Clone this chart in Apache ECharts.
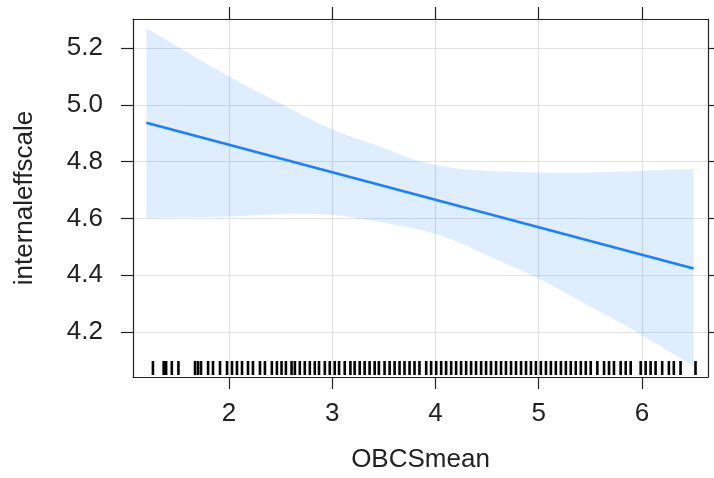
<!DOCTYPE html>
<html>
<head>
<meta charset="utf-8">
<script src="https://cdn.jsdelivr.net/npm/echarts@6/dist/echarts.min.js"></script>
<style>
  html, body { margin: 0; padding: 0; background: #fff; }
  #chart { width: 714px; height: 478px; }
</style>
</head>
<body>
<div id="chart"></div>
<script>
// effect of OBCSmean on internaleffscale, fit + confidence band
const bandX = [1.2, 1.5, 2, 2.5, 3, 3.5, 3.75, 4, 4.25, 4.5, 5, 5.5, 6, 6.5]
const bandUpper = [5.27, 5.205, 5.10, 5.005, 4.914, 4.848, 4.812, 4.789, 4.774, 4.768, 4.762, 4.762, 4.768, 4.774]
const bandLower = [4.601, 4.604, 4.607, 4.615, 4.613, 4.585, 4.568, 4.546, 4.512, 4.47, 4.389, 4.29, 4.19, 4.08]
const fitX = [1.2, 6.5]
const fitY = [4.937, 4.424]

// rug of observed OBCSmean values
const rugX = [
  1.263, 1.367, 1.391, 1.446, 1.510, 1.671, 1.700, 1.729, 1.797, 1.845,
  1.913, 1.981, 2.029, 2.077, 2.126, 2.184, 2.232, 2.300, 2.348, 2.415,
  2.464, 2.509, 2.551, 2.606, 2.638, 2.686, 2.734, 2.783, 2.831, 2.872,
  2.928, 2.976, 3.024, 3.066, 3.121, 3.176, 3.217, 3.266, 3.314, 3.362,
  3.411, 3.452, 3.507, 3.556, 3.604, 3.652, 3.700, 3.749, 3.797, 3.845,
  3.910, 3.958, 4.007, 4.055, 4.103, 4.152, 4.200, 4.248, 4.297, 4.345,
  4.393, 4.442, 4.490, 4.538, 4.587, 4.635, 4.683, 4.732, 4.780, 4.829,
  4.877, 4.925, 4.973, 5.021, 5.070, 5.118, 5.166, 5.215, 5.263, 5.311,
  5.359, 5.408, 5.456, 5.504, 5.568, 5.633, 5.681, 5.729, 5.794, 5.843,
  5.891, 5.988, 6.036, 6.084, 6.132, 6.196, 6.261, 6.309, 6.374, 6.519
]

const xTicks = [2, 3, 4, 5, 6]
const yTicks = [4.2, 4.4, 4.6, 4.8, 5.0, 5.2]
const xMin = 1.07, xMax = 6.64
const yMin = 4.042, yMax = 5.302

const chart = echarts.init(document.getElementById('chart'))

const axisLine = { show: true, lineStyle: { color: '#222', width: 1.2 } }
const tickStyle = { lineStyle: { color: '#222', width: 1.2 } }
const gridLine = { show: true, lineStyle: { color: '#e2e2e2', width: 1.2 } }
const labelFont = { color: '#222', fontSize: 26, fontFamily: 'Liberation Sans, Arial, sans-serif' }

// catmull-rom through pixel points -> bezier path commands
function smoothSegs(pts) {
  let d = ''
  for (let i = 0; i < pts.length - 1; i++) {
    const p0 = pts[Math.max(i - 1, 0)], p1 = pts[i], p2 = pts[i + 1], p3 = pts[Math.min(i + 2, pts.length - 1)]
    const c1 = [p1[0] + (p2[0] - p0[0]) / 6, p1[1] + (p2[1] - p0[1]) / 6]
    const c2 = [p2[0] - (p3[0] - p1[0]) / 6, p2[1] - (p3[1] - p1[1]) / 6]
    d += ` C ${c1[0]} ${c1[1]} ${c2[0]} ${c2[1]} ${p2[0]} ${p2[1]}`
  }
  return d
}

const xAxisBase = {
  type: 'value', min: xMin, max: xMax,
  axisLine: axisLine,
  splitLine: gridLine
}
const yAxisBase = {
  type: 'value', min: yMin, max: yMax,
  axisLine: axisLine,
  splitLine: gridLine
}

const option = {
  animation: false,
  backgroundColor: '#fff',
  grid: { left: 133, right: 6, top: 19, bottom: 99 },
  xAxis: [
    {
      ...xAxisBase,
      position: 'bottom',
      name: 'OBCSmean',
      nameLocation: 'middle',
      nameGap: 70,
      nameTextStyle: { ...labelFont },
      axisTick: { show: true, length: 12, customValues: xTicks, ...tickStyle },
      axisLabel: { ...labelFont, margin: 24, customValues: xTicks, formatter: v => String(v) }
    },
    {
      ...xAxisBase,
      position: 'top',
      splitLine: { show: false },
      axisTick: { show: true, length: 12, customValues: xTicks, ...tickStyle },
      axisLabel: { show: false }
    }
  ],
  yAxis: [
    {
      ...yAxisBase,
      position: 'left',
      name: 'internaleffscale',
      nameLocation: 'middle',
      nameGap: 95,
      nameRotate: 90,
      nameTextStyle: { ...labelFont },
      axisTick: { show: true, length: 12, customValues: yTicks, ...tickStyle },
      axisLabel: { ...labelFont, margin: 30, customValues: yTicks, formatter: v => v.toFixed(1) }
    },
    {
      ...yAxisBase,
      position: 'right',
      splitLine: { show: false },
      axisTick: { show: true, length: 12, customValues: yTicks, ...tickStyle },
      axisLabel: { show: false }
    }
  ],
  series: [
    {
      name: 'band',
      type: 'custom',
      data: [0],
      renderItem: (params, api) => {
        const top = bandX.map((x, i) => api.coord([x, bandUpper[i]]))
        const bottom = bandX.map((x, i) => api.coord([x, bandLower[i]])).reverse()
        const d = `M ${top[0][0]} ${top[0][1]}` + smoothSegs(top) +
          ` L ${bottom[0][0]} ${bottom[0][1]}` + smoothSegs(bottom) + ' Z'
        return {
          type: 'path',
          shape: { pathData: d },
          style: { fill: 'rgba(0,120,255,0.13)' }
        }
      }
    },
    {
      name: 'fit',
      type: 'line',
      symbol: 'none',
      lineStyle: { color: '#1a80ff', width: 2.6 },
      data: fitX.map((x, i) => [x, fitY[i]])
    },
    {
      name: 'rug',
      type: 'custom',
      data: rugX.map(x => [x]),
      renderItem: (params, api) => {
        const p = api.coord([api.value(0), yMin])
        return {
          type: 'line',
          shape: { x1: p[0], y1: p[1] - 2, x2: p[0], y2: p[1] - 16 },
          style: { stroke: '#000', lineWidth: 2.6 }
        }
      }
    }
  ]
}

chart.setOption(option)
</script>
</body>
</html>
